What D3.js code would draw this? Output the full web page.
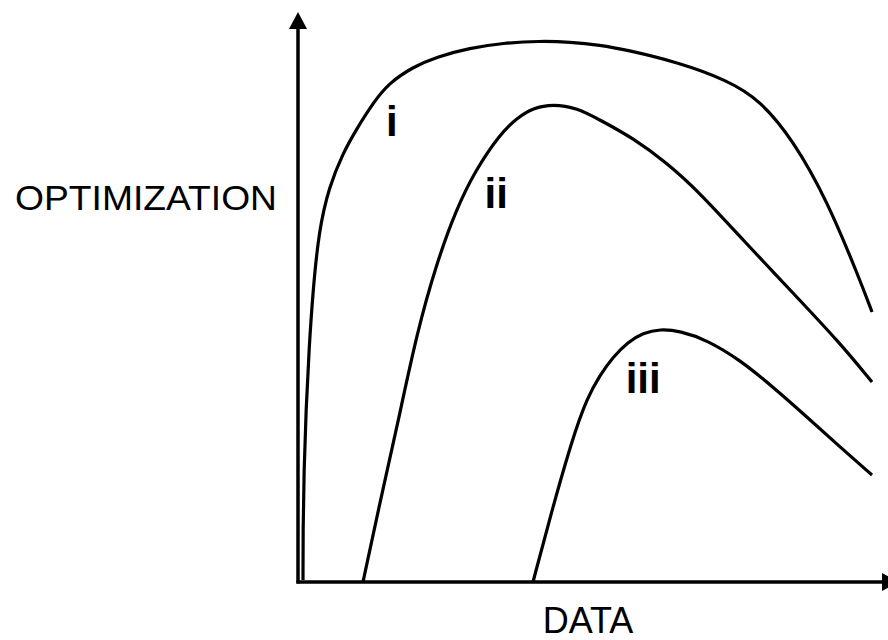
<!DOCTYPE html>
<html>
<head>
<meta charset="utf-8">
<script src="https://cdn.jsdelivr.net/npm/d3@7"></script>
<style>
  html, body { margin: 0; padding: 0; background: #fff; }
  svg { display: block; }
</style>
</head>
<body>
<svg id="chart" width="888" height="640"></svg>
<script>
// ---- Data (x: DATA, y: OPTIMIZATION; both on a 0-100 conceptual scale) ----
const curveNames = ["i", "ii", "iii"];

const curveIx = [0.85, 0.85, 1.02, 1.36, 1.86, 2.54, 3.56, 5.25, 7.63, 9.83, 12.71, 15.42, 19.49, 23.39, 29.15, 34.75, 41.02, 46.10, 51.19, 55.76, 64.24, 72.71, 78.31, 83.90, 89.66, 95.25, 97.29];
const curveIy = [0.36, 9.42, 20.29, 31.16, 42.03, 52.90, 63.77, 71.56, 77.72, 81.88, 86.78, 90.40, 93.30, 95.11, 96.74, 97.64, 98.01, 97.83, 97.28, 96.38, 94.20, 90.94, 87.32, 80.07, 69.20, 54.71, 48.91];

const curveIIx = [11.02, 13.90, 16.78, 20.17, 23.56, 26.78, 30.00, 34.24, 37.12, 39.83, 43.22, 47.29, 51.19, 56.78, 62.54, 68.14, 75.42, 83.90, 91.86, 97.29];
const curveIIy = [0.0, 14.49, 28.08, 45.29, 57.97, 67.39, 74.46, 81.16, 84.06, 85.87, 86.59, 85.87, 83.70, 80.43, 75.91, 70.47, 61.96, 52.36, 43.30, 36.23];

const curveIIIx = [39.83, 43.05, 46.44, 48.98, 51.19, 53.39, 55.93, 58.47, 61.36, 64.75, 69.32, 74.92, 80.51, 86.27, 91.86, 97.29];
const curveIIIy = [0.0, 13.04, 25.72, 33.33, 37.50, 40.76, 43.48, 45.11, 45.83, 45.47, 43.84, 40.22, 35.33, 29.89, 24.46, 19.38];

// label anchor positions in data units
const labelX = [15.9, 33.6, 58.5];
const labelY = [80.8, 67.75, 34.2];

const xTitle = "DATA";
const yTitle = "OPTIMIZATION";

// ---- Drawing ----
const svg = d3.select("#chart");
const x = d3.scaleLinear().domain([0, 100]).range([298, 888]);
const y = d3.scaleLinear().domain([0, 100]).range([582, 30]);

const series = [
  d3.zip(curveIx, curveIy),
  d3.zip(curveIIx, curveIIy),
  d3.zip(curveIIIx, curveIIIy)
];

const line = d3.line()
  .x(d => x(d[0]))
  .y(d => y(d[1]))
  .curve(d3.curveBasis);

// Axes
const x0 = x(0), y0 = y(0);
svg.append("line")
  .attr("x1", x0).attr("y1", y0 + 1.5)
  .attr("x2", x0).attr("y2", 28)
  .attr("stroke", "#000").attr("stroke-width", 3.5);
svg.append("path")
  .attr("d", `M${x0},12 L${x0 - 9},29 L${x0 + 9},29 Z`)
  .attr("fill", "#000");

svg.append("line")
  .attr("x1", x0 - 1.5).attr("y1", y0)
  .attr("x2", 883).attr("y2", y0)
  .attr("stroke", "#000").attr("stroke-width", 3.5);
svg.append("path")
  .attr("d", `M899,${y0} L882,${y0 - 9} L882,${y0 + 9} Z`)
  .attr("fill", "#000");

// Curves
svg.selectAll("path.curve")
  .data(series)
  .join("path")
  .attr("class", "curve")
  .attr("d", line)
  .attr("fill", "none")
  .attr("stroke", "#000")
  .attr("stroke-width", 3.2)
  .attr("stroke-linecap", "butt")
  .attr("stroke-linejoin", "round");

// Curve labels
svg.selectAll("text.lbl")
  .data(curveNames)
  .join("text")
  .attr("class", "lbl")
  .attr("x", (d, i) => x(labelX[i]))
  .attr("y", (d, i) => y(labelY[i]))
  .attr("text-anchor", "middle")
  .attr("font-family", "Liberation Sans, Arial, sans-serif")
  .attr("font-weight", "bold")
  .attr("font-size", 42)
  .text(d => d);

// Axis titles
svg.append("text")
  .attr("x", 146).attr("y", 210)
  .attr("text-anchor", "middle")
  .attr("font-family", "Liberation Sans, Arial, sans-serif")
  .attr("font-size", 35)
  .attr("textLength", 262)
  .attr("lengthAdjust", "spacingAndGlyphs")
  .attr("fill", "#000")
  .text(yTitle);

svg.append("text")
  .attr("x", 588).attr("y", 633)
  .attr("text-anchor", "middle")
  .attr("font-family", "Liberation Sans, Arial, sans-serif")
  .attr("font-size", 36)
  .attr("fill", "#000")
  .text(xTitle);
</script>
</body>
</html>
